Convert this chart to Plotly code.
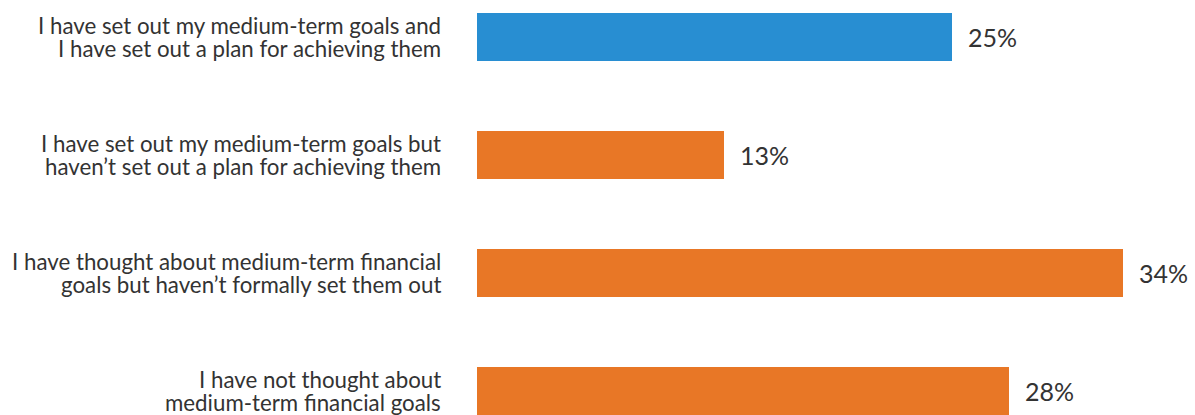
import plotly.graph_objects as go

categories = [
    ["I have set out my medium-term goals and", "I have set out a plan for achieving them"],
    ["I have set out my medium-term goals but", "haven\u2019t set out a plan for achieving them"],
    ["I have thought about medium-term financial", "goals but haven\u2019t formally set them out"],
    ["I have not thought about", "medium-term financial goals"],
]
values = [25, 13, 34, 28]
colors = ["#288ED2", "#E87726", "#E87726", "#E87726"]

FONT = "Lato"
TEXT_COLOR = "#333333"

ypos = list(range(len(values)))

fig = go.Figure()
fig.add_trace(go.Bar(
    x=values, y=ypos, orientation="h",
    marker=dict(color=colors, line=dict(width=0)),
    width=48 / 118, hoverinfo="skip",
))

annotations = []
for i, (lines, v) in enumerate(zip(categories, values)):
    n = len(lines)
    for j, line in enumerate(lines):
        offset = (j - (n - 1) / 2) * 23.5
        annotations.append(dict(
            x=-34 / 718, xref="paper", y=i, yref="y",
            text=line, showarrow=False, xanchor="right", yanchor="middle",
            yshift=-offset, font=dict(family=FONT, size=22.3, color=TEXT_COLOR),
        ))
    annotations.append(dict(
        x=v, xref="x", y=i, yref="y", text=f"{v}%", showarrow=False,
        xanchor="left", yanchor="middle", xshift=14, yshift=0,
        font=dict(family=FONT, size=25, color=TEXT_COLOR),
    ))

fig.update_layout(
    width=1195, height=415,
    margin=dict(l=477, r=0, t=0, b=0),
    paper_bgcolor="white", plot_bgcolor="white",
    showlegend=False,
    xaxis=dict(range=[0, 718 / 19], visible=False, fixedrange=True),
    yaxis=dict(range=[415 / 118 - 37 / 118, -37 / 118], visible=False, fixedrange=True),
    annotations=annotations,
)

fig.write_html("out.html")
